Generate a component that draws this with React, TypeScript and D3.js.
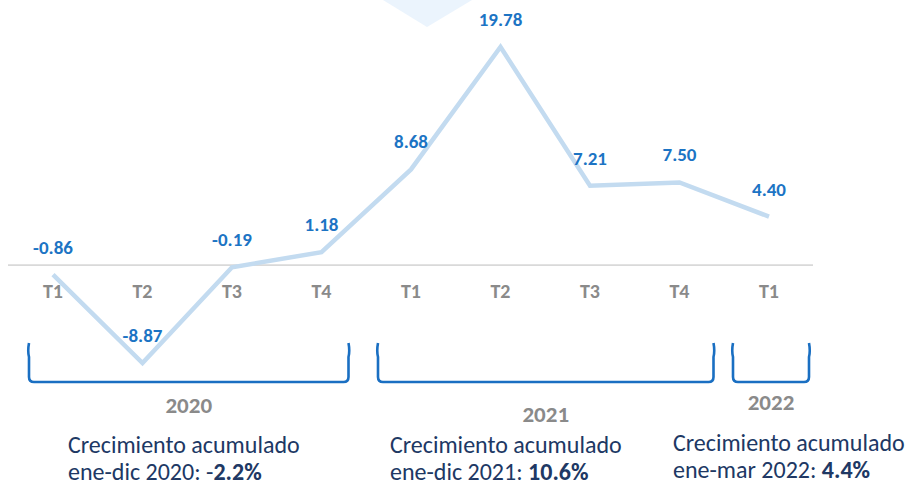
import React from 'react';
import * as d3 from 'd3';

// trimestres
const quarters = ['T1', 'T2', 'T3', 'T4', 'T1', 'T2', 'T3', 'T4', 'T1'];
const growth = [-0.86, -8.87, -0.19, 1.18, 8.68, 19.78, 7.21, 7.5, 4.4];
const years = ['2020', '2021', '2022'];
const yearStart = [0, 4, 8];
const yearEnd = [3, 7, 8];
const periods = ['ene-dic 2020: ', 'ene-dic 2021: ', 'ene-mar 2022: '];
const cumulative = ['-', '', ''];
const cumulativeBold = ['2.2%', '10.6%', '4.4%'];

const W = 908;
const H = 485;

const blue = '#1c74c4';
const navy = '#203864';
const gray = '#8a8a8a';
const font = "Carlito, 'Liberation Sans', Arial, sans-serif";

// layout tweaks per year group
const bracketPad = [[24, 27], [33, 34], [36, 40]];
const yearLabelY = [413, 422, 410];
const noteX = [68, 390, 673];
const noteY = [453, 453, 451];

export default function App() {
  const keys = quarters.map((q, i) => i);
  const x = d3.scalePoint<number>().domain(keys).range([53, 769]);
  const y = d3.scaleLinear().domain([-8.87, 19.78]).range([363, 47]);

  const line = d3.line<number>()
    .x((d, i) => x(i) as number)
    .y(d => y(d));

  const bracket = (x0: number, x1: number, top: number, bottom: number) => {
    const r = 5;
    return `M${x0},${top} Q${x0 - 1.5},${top + 8} ${x0},${top + 14} L${x0},${bottom - r} Q${x0},${bottom} ${x0 + r},${bottom} L${x1 - r},${bottom} Q${x1},${bottom} ${x1},${bottom - r} L${x1},${top + 14} Q${x1 + 1.5},${top + 8} ${x1},${top}`;
  };

  return (
    <svg width={W} height={H} style={{ position: 'absolute', left: 0, top: 0, background: '#fff' }}>
      <polygon points="383,0 427,27 472,0" fill="#ebf4fd" />

      <line x1={8} x2={813} y1={y(0)} y2={y(0)} stroke="#d9d9d9" strokeWidth={1.6} />

      <path d={line(growth) || ''} fill="none" stroke="#c3dbf0" strokeWidth={4.5} strokeLinejoin="miter" />

      {growth.map((v, i) => (
        <text key={'v' + i} x={x(i)} y={y(v) - 21} textAnchor="middle"
          fontFamily={font} fontWeight="bold" fontSize={19} fill={blue}>
          {v.toFixed(2)}
        </text>
      ))}

      {quarters.map((q, i) => (
        <text key={'q' + i} x={x(i)} y={298} textAnchor="middle"
          fontFamily={font} fontWeight="bold" fontSize={20} fill={gray}>
          {q}
        </text>
      ))}

      {years.map((yr, k) => {
        const x0 = (x(yearStart[k]) as number) - bracketPad[k][0];
        const x1 = (x(yearEnd[k]) as number) + bracketPad[k][1];
        return (
          <g key={yr}>
            <path d={bracket(x0, x1, 343, 382)} fill="none" stroke="#1a6fc2" strokeWidth={2.6} />
            <text x={(x0 + x1) / 2} y={yearLabelY[k]} textAnchor="middle"
              fontFamily={font} fontWeight="bold" fontSize={23} fill={gray}>
              {yr}
            </text>
            <text x={noteX[k]} y={noteY[k]} fontFamily={font} fontSize={24} fill={navy}>
              Crecimiento acumulado
            </text>
            <text x={noteX[k]} y={noteY[k] + 27} fontFamily={font} fontSize={24} fill={navy}>
              {periods[k]}{cumulative[k]}
              <tspan fontWeight="bold">{cumulativeBold[k]}</tspan>
            </text>
          </g>
        );
      })}
    </svg>
  );
}
